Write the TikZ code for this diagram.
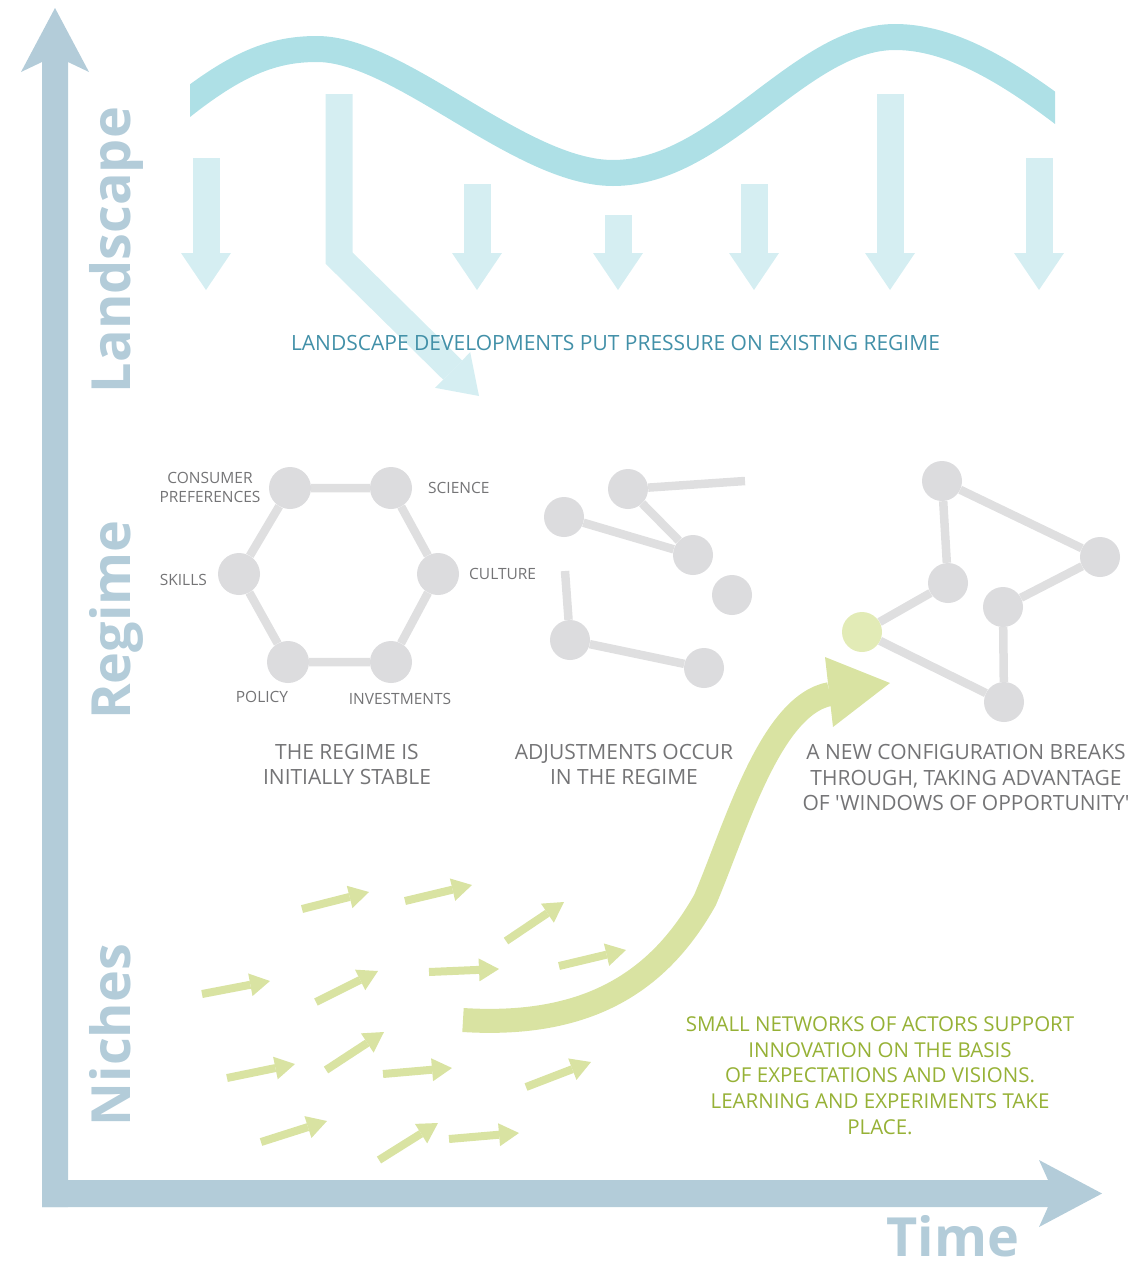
\documentclass[tikz,border=0pt]{standalone}
\usepackage{fontspec}
\setmainfont{Open Sans}
\newfontfamily\semib{Open Sans}
\usetikzlibrary{arrows.meta,backgrounds}

\definecolor{axisblue}{HTML}{B3CCD9}
\definecolor{wavecyan}{HTML}{AEE0E6}
\definecolor{pushcyan}{HTML}{D5EEF2}
\definecolor{presstext}{HTML}{4290A8}
\definecolor{nodegray}{HTML}{DCDCDE}
\definecolor{tiegray}{HTML}{DFDFE0}
\definecolor{labelgray}{HTML}{747476}
\definecolor{sproutgreen}{HTML}{D9E3A2}
\definecolor{seedgreen}{HTML}{E2EBB6}
\definecolor{notegreen}{HTML}{96B136}

\begin{document}
\begin{tikzpicture}[x=1pt, y=-1pt,
  wavebend/.style={draw=wavecyan, line width=26pt},
  push/.style={draw=pushcyan, line width=27pt, -{Triangle[length=37pt,width=50pt,line width=0pt]}},
  sprout/.style={draw=sproutgreen, line width=8pt, -{Triangle[length=20pt,width=23pt,line width=0pt]}},
  actor/.style={circle, fill=nodegray, minimum size=40pt, inner sep=0pt},
  hexactor/.style={actor, minimum size=42pt},
  tie/.style={draw=tiegray, line width=8.5pt},
  tag/.style={text=labelgray, font=\semib\fontsize{15.5}{19}\selectfont, inner sep=0pt, align=center},
  caption/.style={text=labelgray, font=\semib\fontsize{21}{25.5}\selectfont, inner sep=0pt, align=center},
  level/.style={text=axisblue, font=\bfseries\fontsize{54}{60}\selectfont, inner sep=0pt, rotate=90, anchor=base}]
\useasboundingbox (0,0) rectangle (1145,1269);

% axes
\fill[axisblue] (42,1207) -- (42,62) -- (21,72) -- (55,8) -- (89,72) -- (68,62) -- (68,1207) -- cycle;
\fill[axisblue] (42,1180) -- (1048,1180) -- (1039,1160) -- (1102,1193.5) -- (1039,1227) -- (1048,1207) -- (42,1207) -- cycle;
\node[level] (land) at (130,250) {Landscape};
\node[level] (reg) at (130,620) {Regime};
\node[level] (nich) at (130,1035) {Niches};
\node[text=axisblue, font=\bfseries\fontsize{54}{60}\selectfont, inner sep=0pt, anchor=base] (time) at (953,1256) {Time};

% landscape
\begin{scope}
\clip (190,0) rectangle (1055,220);
\draw[wavebend] (160,125) .. controls (230,65) and (270,49) .. (317,49)
  .. controls (400,49) and (520,173) .. (613,173)
  .. controls (720,173) and (800,37) .. (895,37)
  .. controls (950,37) and (1010,70) .. (1090,135);
\end{scope}
\foreach \x/\y in {206/158, 477/184, 618/215, 754/184, 890/94, 1039/158}
  \draw[push] (\x,\y) -- (\x,290);
\draw[push, line join=miter] (339,94) -- (339,258) -- (479,396);
\node[text=presstext, font=\semib\fontsize{21}{25}\selectfont, inner sep=0pt] (press) at (615.5,343) {LANDSCAPE DEVELOPMENTS PUT PRESSURE ON EXISTING REGIME};

% regime: stable
\node[hexactor] (cons) at (290,488) {};
\node[hexactor] (sci) at (391,488) {};
\node[hexactor] (cult) at (438,574) {};
\node[hexactor] (inv) at (391,662) {};
\node[hexactor] (pol) at (288,662) {};
\node[hexactor] (skill) at (239,574) {};
\node[tag] (consl) at (210,487.5) {CONSUMER\\PREFERENCES};
\node[tag, anchor=west] (scil) at (428,488) {SCIENCE};
\node[tag, anchor=west] (cultl) at (469,574) {CULTURE};
\node[tag, anchor=east] (skilll) at (207,580) {SKILLS};
\node[tag] (poll) at (262,697) {POLICY};
\node[tag] (invl) at (400,699) {INVESTMENTS};

% regime: adjusting
\node[actor] (m1) at (628,489) {};
\node[actor] (m2) at (564,517) {};
\node[actor] (m3) at (693,555) {};
\node[actor] (m4) at (732,595) {};
\node[actor] (m5) at (570,640) {};
\node[actor] (m6) at (704,668) {};
\coordinate (m1end) at (745,481);
\coordinate (m5end) at (565,571);

% regime: new configuration
\node[actor] (r1) at (942,481) {};
\node[actor] (r2) at (1100,557) {};
\node[actor] (r3) at (948,583) {};
\node[actor] (r4) at (1003,607) {};
\node[actor, fill=seedgreen] (seed) at (862,632) {};
\node[actor] (r5) at (1004,702) {};

\begin{scope}[on background layer]
\draw[tie] (cons) -- (sci) -- (cult) -- (inv) -- (pol) -- (skill) -- (cons);
\draw[tie] (m1end) -- (m1) -- (m3) -- (m2);
\draw[tie] (m5end) -- (m5) -- (m6);
\draw[tie] (r3) -- (r1) -- (r2) -- (r4) -- (r5) -- (seed) -- (r3);
\end{scope}

\node[caption] (stable) at (347,764.5) {THE REGIME IS\\INITIALLY STABLE};
\node[caption] (adjust) at (624,764.5) {ADJUSTMENTS OCCUR\\IN THE REGIME};
\node[caption] (breaks) at (966,777.5) {A NEW CONFIGURATION BREAKS\\THROUGH, TAKING ADVANTAGE\\OF 'WINDOWS OF OPPORTUNITY'};

% niches
\foreach \ax/\ay/\bx/\by in {302/909/369/892, 405/901/472/885, 506/941/564/902, 559/966/626/950,
    202/994/270/981, 316/1002/378/971, 429/972/499/969, 227/1078/295/1064, 326/1070/384/1032,
    383/1074/452/1068, 526/1087/591/1062, 261/1142/327/1121, 379/1160/438/1123, 449/1139/519/1133}
  \draw[sprout] (\ax,\ay) -- (\bx,\by);
\draw[draw=sproutgreen, line width=24pt] (463,1020) .. controls (590,1028) and (660,980) .. (705,900)
  .. controls (735,830) and (770,705) .. (830,694);
\fill[sproutgreen] (825,657) -- (890,683) -- (833,727) -- cycle;
\node[text=notegreen, font=\semib\fontsize{20.5}{25.7}\selectfont, align=center, inner sep=0pt] (niche) at (880,1075.5) {SMALL NETWORKS OF ACTORS SUPPORT\\INNOVATION ON THE BASIS\\OF EXPECTATIONS AND VISIONS.\\LEARNING AND EXPERIMENTS TAKE\\PLACE.};
\end{tikzpicture}
\end{document}
